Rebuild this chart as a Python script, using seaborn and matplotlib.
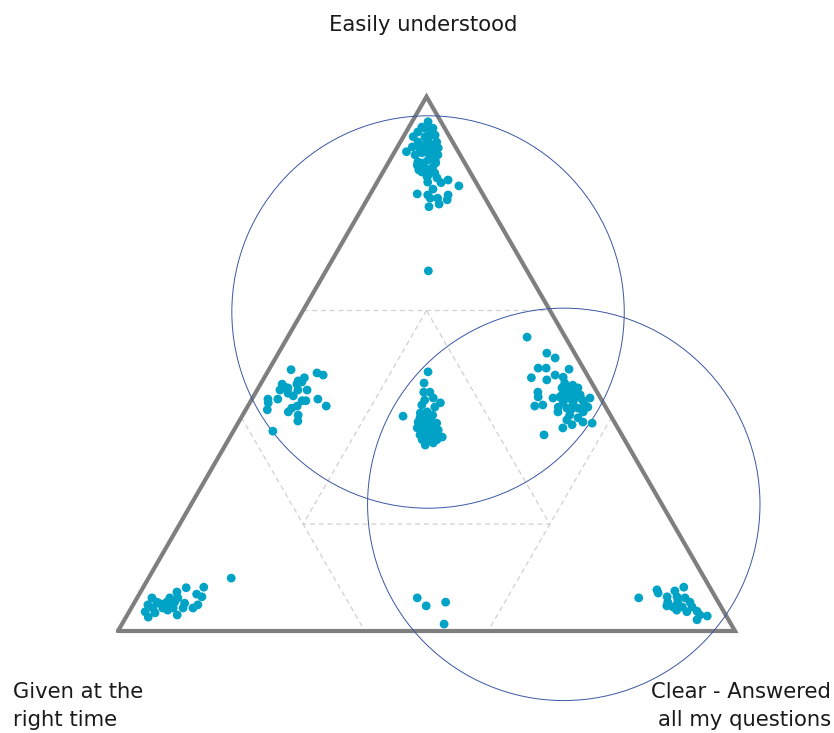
import numpy as np
import pandas as pd
import matplotlib
matplotlib.use("Agg")
import matplotlib.pyplot as plt
import seaborn as sns
from matplotlib.patches import Circle

# ---------------- data (ternary shares, %: top / right; left = 100 - top - right) ----------------
labels = ["Easily understood", "Given at the\nright time", "Clear - Answered\nall my questions"]

top_cluster_top = [95.3, 94.3, 94.1, 92.5, 93.2, 92.8, 92.5, 91.5, 91.5, 91.5, 89.7, 90.4, 90.4, 90.4,
                   89.5, 89.5, 89.1, 87.8, 88.2, 88.2, 87.2, 86.8, 86.8, 85.9, 85.9, 85.7, 85.0, 84.8,
                   84.0, 83.9, 84.4, 83.3, 82.7, 81.8, 81.6, 81.0, 81.6, 80.7, 81.0, 79.9, 79.4,
                   94.1, 93.4, 91.9, 90.8, 91.0, 89.7, 89.1, 88.7, 87.6, 86.3, 85.3, 87.6, 90.6, 92.8]
top_cluster_right = [2.6, 2.1, 4.0, 1.6, 4.0, 5.0, 3.5, 2.9, 4.5, 5.9, 1.9, 3.7, 5.4, 6.7,
                     4.5, 6.2, 7.3, 4.7, 6.2, 7.3, 4.9, 6.3, 7.6, 6.3, 7.6, 8.5, 7.6, 9.3,
                     8.2, 10.4, 11.3, 13.6, 9.7, 7.6, 9.4, 11.3, 12.7, 13.0, 10.1, 12.1, 10.7,
                     2.7, 1.9, 4.1, 4.2, 5.6, 5.1, 3.6, 6.4, 5.6, 5.6, 7.6, 7.7, 2.4, 4.5]

single_top = [67.4]
single_right = [16.6]

midleft_top = [48.9, 48.3, 47.9, 47.4, 46.8, 46.2, 46.2, 45.1, 45.5, 45.1, 45.1, 44.5, 44.0, 43.4,
               43.4, 43.1, 43.1, 43.4, 42.7, 42.1, 41.7, 42.1, 41.4, 41.0, 40.4, 39.3, 37.4, 45.7, 46.6]
midleft_right = [3.6, 8.1, 9.3, 6.5, 5.8, 3.5, 5.9, 3.7, 4.8, 8.1, 6.6, 5.3, 6.4, 2.6,
                 4.2, 8.3, 8.9, 10.7, 3.0, 8.0, 7.3, 12.7, 3.5, 7.1, 9.0, 9.5, 6.4, 4.1, 6.5]

centre_top = [48.5, 46.4, 44.7, 44.7, 43.2, 43.6, 42.7, 41.9, 40.2, 40.8, 41.0, 40.4, 39.1, 39.5,
              39.1, 38.9, 38.0, 38.0, 37.6, 37.6, 36.7, 36.7, 36.7, 36.3, 35.8, 35.8, 35.8, 34.8,
              35.2, 42.3, 39.9, 39.9, 38.0, 38.6]
centre_right = [26.0, 26.4, 27.2, 28.2, 28.1, 29.3, 30.9, 30.4, 26.1, 28.6, 29.6, 30.8, 29.1, 30.0,
                31.3, 32.2, 29.5, 30.4, 31.8, 33.1, 30.6, 31.7, 33.0, 34.4, 31.4, 32.7, 33.8, 32.4,
                33.5, 28.1, 30.3, 29.0, 32.1, 30.6]

midright_top = [55.0, 52.0, 51.1, 49.2, 49.2, 49.0, 47.9, 47.5, 47.4, 47.0, 46.4, 46.0, 45.5, 45.5,
                45.5, 44.7, 44.5, 44.5, 43.8, 43.6, 43.8, 43.6, 43.6, 43.2, 42.9, 42.7, 42.3, 42.1,
                42.3, 41.9, 41.7, 41.7, 41.9, 41.0, 40.4, 41.0, 39.5, 39.9, 38.9, 39.1, 38.6, 38.0,
                36.7, 43.6, 44.2, 44.2, 41.4]
midright_right = [38.8, 43.5, 45.3, 43.5, 44.8, 48.6, 46.9, 48.4, 43.3, 46.0, 49.2, 50.7, 49.2, 50.5,
                  51.8, 45.7, 50.5, 51.8, 46.2, 48.7, 49.7, 51.1, 54.7, 53.7, 50.7, 52.4, 54.5, 46.5,
                  47.7, 50.4, 51.9, 53.7, 55.2, 50.8, 53.0, 54.9, 53.0, 54.6, 57.4, 55.8, 54.3, 53.1,
                  50.7, 52.3, 52.8, 49.9, 52.7]

botleft_top = [9.9, 8.1, 8.2, 7.3, 6.9, 6.4, 6.2, 6.2, 6.2, 5.4, 5.4, 5.4, 5.2, 4.9, 5.1, 4.9,
               4.9, 4.3, 4.3, 4.3, 4.3, 4.3, 3.6, 3.4, 3.0, 2.6, 3.9]
botleft_right = [13.4, 7.0, 9.8, 5.9, 9.3, 10.4, 2.4, 5.3, 6.6, 3.6, 5.2, 6.5, 8.2, 2.4, 4.3, 5.7,
                 10.5, 3.5, 5.1, 6.8, 8.4, 10.0, 2.6, 4.3, 8.1, 3.6, 6.1]

botmid_top = [6.2, 4.7, 5.4, 1.3]
botmid_right = [45.4, 47.6, 50.4, 52.2]

botright_top = [6.2, 7.7, 8.2, 7.5, 6.4, 6.4, 6.2, 5.4, 5.4, 5.4, 4.7, 4.5, 4.5, 4.5, 3.9, 3.6,
                3.7, 3.0, 2.8, 2.1, 7.1]
botright_right = [81.3, 83.5, 87.6, 86.5, 85.8, 87.4, 88.8, 86.4, 88.0, 90.0, 86.6, 87.7, 89.2, 90.8,
                  88.6, 90.4, 92.0, 92.8, 94.1, 92.8, 84.0]

# circles: centre (top %, right %) and radius (fraction of triangle side)
circle_top = [59.7, 23.7]
circle_right = [20.4, 60.4]
circle_radius = [0.318, 0.318]

grid_levels = [0.2, 0.6]

# ---------------- helpers ----------------
H = np.sqrt(3) / 2


def to_xy(top, right):
    top = np.asarray(top, float) / 100.0
    right = np.asarray(right, float) / 100.0
    return right + top / 2.0, top * H


def bary_xy(t, l, r):
    return r + t / 2.0, t * H


groups = [
    (top_cluster_top, top_cluster_right), (single_top, single_right),
    (midleft_top, midleft_right), (centre_top, centre_right),
    (midright_top, midright_right), (botleft_top, botleft_right),
    (botmid_top, botmid_right), (botright_top, botright_right),
]
xs, ys = [], []
for t, r in groups:
    x, y = to_xy(t, r)
    xs.extend(x); ys.extend(y)
df = pd.DataFrame({"x": xs, "y": ys})

# ---------------- figure ----------------
sns.set_theme(style="white")
W, Hpx = 834, 733
fig = plt.figure(figsize=(W / 100, Hpx / 100), dpi=100)
ax = fig.add_axes([0, 0, 1, 1])
ax.set_xlim(-118 / 617, (W - 118) / 617)
ax.set_ylim((631 - Hpx) / 617, 631 / 617)
ax.set_axis_off()

grid_kw = dict(color="#d0d0d0", lw=0.9, ls=(0, (4, 3)), zorder=1)
lo, hi = grid_levels
# full chords at 0.6 for each component
for (p1, p2) in [
    ((hi, 1 - hi, 0), (hi, 0, 1 - hi)),            # top = 0.6
    ((1 - hi, hi, 0), (0, hi, 1 - hi)),            # left = 0.6
    ((1 - hi, 0, hi), (0, 1 - hi, hi)),            # right = 0.6
]:
    x1, y1 = bary_xy(*p1); x2, y2 = bary_xy(*p2)
    ax.plot([x1, x2], [y1, y2], **grid_kw)
# inner triangle at 0.2
inner = [(hi, lo, lo), (lo, hi, lo), (lo, lo, hi), (hi, lo, lo)]
ix = [bary_xy(*p)[0] for p in inner]; iy = [bary_xy(*p)[1] for p in inner]
ax.plot(ix, iy, **grid_kw)

# outer triangle
tri = [(0, 1, 0), (0, 0, 1), (1, 0, 0), (0, 1, 0)]
tx = [bary_xy(*p)[0] for p in tri]; ty = [bary_xy(*p)[1] for p in tri]
ax.plot(tx, ty, color="#7f7f7f", lw=3.0, solid_joinstyle="miter", zorder=2)

# circles
for ct, cr, rad in zip(circle_top, circle_right, circle_radius):
    cx, cy = to_xy(ct, cr)
    ax.add_patch(Circle((float(cx), float(cy)), rad, fill=False, ec="#3b56a3", lw=0.7, zorder=3))

sns.scatterplot(data=df, x="x", y="y", ax=ax, color="#00a3c6", s=40, edgecolor="none",
                linewidth=0, zorder=4, legend=False)
ax.set_axis_off()

fs = 15.2
fig.text(423 / W, 1 - 25 / Hpx, labels[0], ha="center", va="center", fontsize=fs, color="#1a1a1a")
fig.text(13 / W, 1 - 706 / Hpx, labels[1], ha="left", va="center", fontsize=fs,
         multialignment="left", linespacing=1.55, color="#1a1a1a")
fig.text(831 / W, 1 - 706 / Hpx, labels[2], ha="right", va="center", fontsize=fs,
         multialignment="right", linespacing=1.55, color="#1a1a1a")

fig.savefig("out.png", dpi=100)
